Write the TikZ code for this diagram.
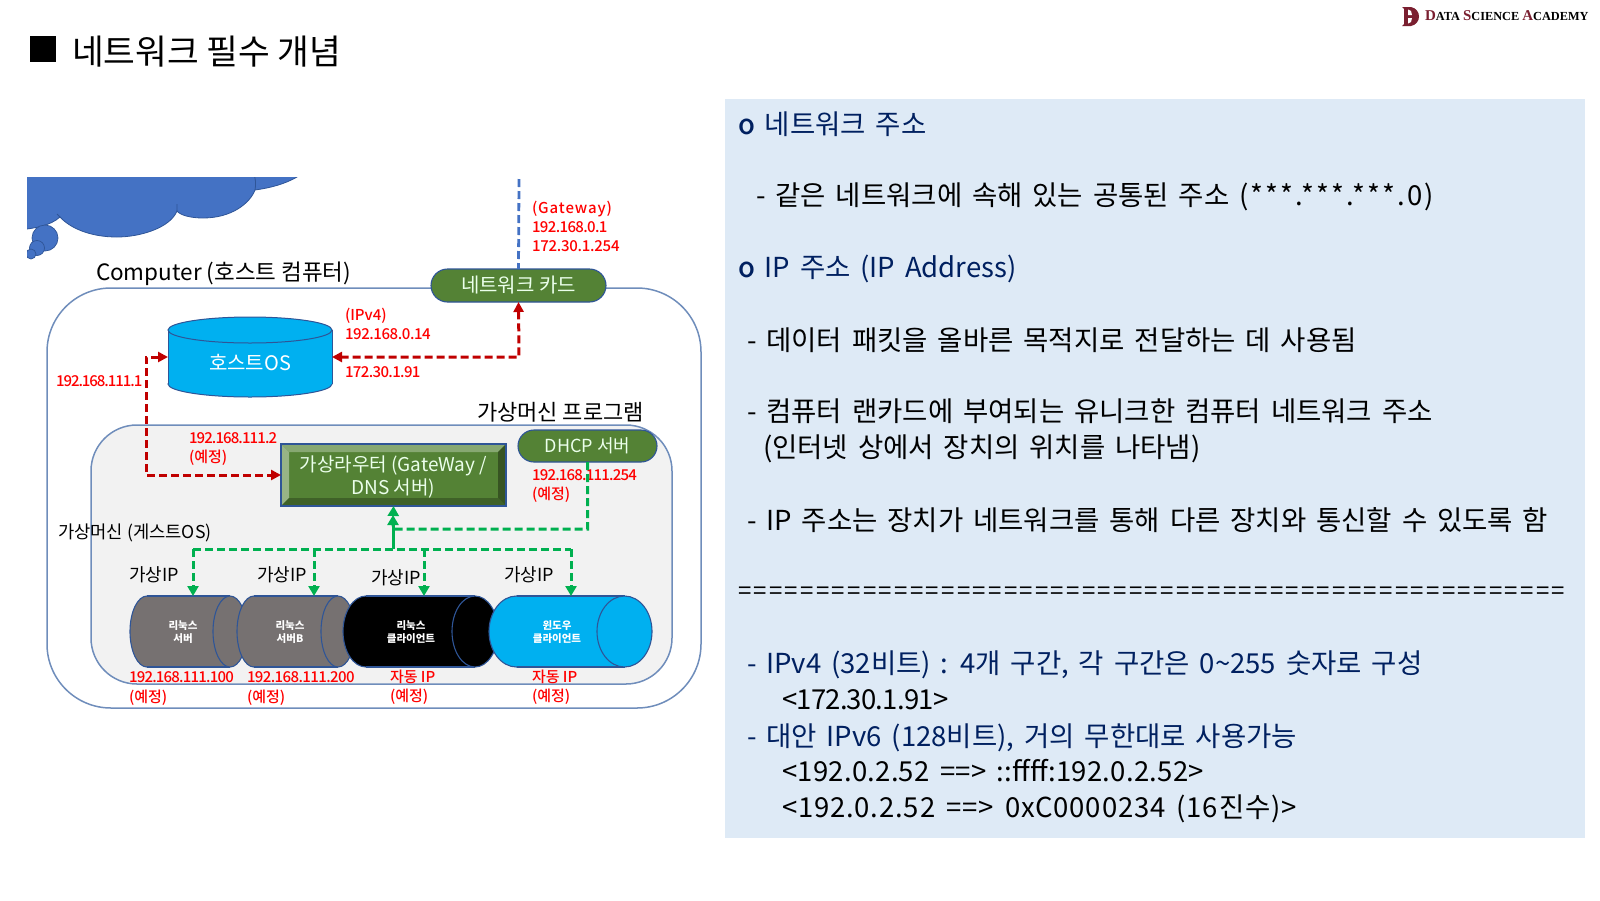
\documentclass[tikz,border=0pt]{standalone}
\usepackage{fontspec}
\setmainfont{Noto Sans CJK KR}
\newfontfamily\panelfont[WordSpace=1.6]{Noto Sans CJK KR}
\newfontfamily\medfont{Noto Sans CJK KR Medium}
\newfontfamily\logofont{Liberation Serif}
\usetikzlibrary{arrows.meta,shapes.misc}
\definecolor{panelbg}{HTML}{DEEAF6}
\definecolor{navy}{HTML}{002060}
\definecolor{framec}{HTML}{6F8DBB}
\definecolor{innerbg}{HTML}{F2F2F2}
\definecolor{cloudc}{HTML}{4472C4}
\definecolor{cloudl}{HTML}{2F5597}
\definecolor{skyc}{HTML}{00B0F0}
\definecolor{cardc}{HTML}{548235}
\definecolor{greyc}{HTML}{767171}
\definecolor{darkred}{HTML}{C00000}
\definecolor{gline}{HTML}{00B050}
\definecolor{logored}{HTML}{7A1F30}
\newcommand{\fs}[1]{\fontsize{#1}{#1}\selectfont}
\newcommand{\lsp}[2]{{\addfontfeature{LetterSpace=#1}\fs{27.5}#2}}
\newcommand{\hcyl}[7]{% name, x1, x2, y1, y2, rx, fill
  \fill[#7,draw=cloudl,line width=1.1pt] (#2+#6,{(#4+#5)/2}) ellipse [x radius=#6,y radius={(#5-#4)/2}];
  \fill[#7] (#2+#6,#4) rectangle (#3-#6,#5);
  \draw[cloudl,line width=1.1pt] (#2+#6,#4) -- (#3-#6,#4) (#2+#6,#5) -- (#3-#6,#5);
  \fill[#7,draw=cloudl,line width=1.1pt] (#3-#6,{(#4+#5)/2}) ellipse [x radius=#6,y radius={(#5-#4)/2}];
  \node[minimum width={(#3-#2)*1pt},minimum height={(#5-#4)*1pt},inner sep=0pt] (#1) at ({(#2+#3)/2},{(#4+#5)/2}) {};
}
\tikzset{
  every node/.style={inner sep=0pt,outer sep=0pt},
  tb/.style={font=\fs{#1},text height={#1*0.9},text depth={#1*0.14}},
  paneltxt/.style={anchor=west,tb=27.5,font=\panelfont\fs{27.5},text=black},
  navytxt/.style={paneltxt,text=navy},
  redtxt/.style={anchor=west,tb=15,font=\medfont\fs{15},text=red},
  rednum/.style={redtxt,font=\medfont\addfontfeature{LetterSpace=#1}\fs{15}},
  blacktxt/.style={anchor=west,text=black},
  vip/.style={blacktxt,tb=18},
  cyltxt/.style={font=\bfseries\fs{10.5},text=white,align=center},
  pill/.style={rounded rectangle,fill=cardc,draw=cloudl,line width=1.1pt,text=white!92!green},
  redconn/.style={darkred,line width=3pt,dash pattern=on 8pt off 4pt,{Triangle[length=10pt,width=10pt]}-{Triangle[length=10pt,width=10pt]}},
  greenconn/.style={gline,line width=3pt,dash pattern=on 8pt off 4pt},
  greenarrow/.style={greenconn,-{Triangle[length=10pt,width=11pt]}},
  frame/.style={draw=framec,line width=1.5pt},
}
\begin{document}
\begin{tikzpicture}[x=1pt,y=-1pt]
\useasboundingbox (0,0) rectangle (1600,900);
% title
\fill[black] (30,36) rectangle (56,62);
\node[blacktxt,tb=34.5] (title) at (72,51) {네트워크 필수 개념};
% logo
\fill[logored] (1402,7) -- (1411,7) .. controls (1416,8) and (1419,12) .. (1419,16.5) .. controls (1419,21) and (1416,25) .. (1411,26) -- (1402,26) -- (1404,24) -- (1404,9) -- cycle;
\fill[white] (1408,9.5) -- (1411,11) -- (1412,15) -- (1408,15) -- cycle (1408,18) -- (1412,18) -- (1411,22) -- (1408,23.5) -- cycle;
\node[anchor=west,font=\logofont\bfseries\fs{12.3},text height=9pt,text depth=1pt] (logo) at (1425,16) {\textcolor{logored}{\fs{15}D}ATA \textcolor{logored}{\fs{15}S}CIENCE \textcolor{logored}{\fs{15}A}CADEMY};
% right panel
\fill[panelbg] (725,99) rectangle (1585,838);
\node[navytxt] (p1) at (738,124) {{\medfont o} 네트워크 주소};
\node[paneltxt] (p2) at (756,195) {- 같은 네트워크에 속해 있는 공통된 주소 \lsp{8}{(***.***.***.0)}};
\node[navytxt] (p3) at (738,267) {{\medfont o} IP 주소 (IP Address)};
\node[paneltxt] (p4) at (747,340) {- 데이터 패킷을 올바른 목적지로 전달하는 데 사용됨};
\node[paneltxt] (p5) at (747,411) {- 컴퓨터 랜카드에 부여되는 유니크한 컴퓨터 네트워크 주소};
\node[paneltxt] (p6) at (763,447) {(인터넷 상에서 장치의 위치를 나타냄)};
\node[paneltxt] (p7) at (747,520) {- IP 주소는 장치가 네트워크를 통해 다른 장치와 통신할 수 있도록 함};
\node[anchor=west,text=black,tb=24,font=\addfontfeature{LetterSpace=9.7}\fs{24}] (p8) at (738,590) {=====================================================};
\node[navytxt] (p9) at (747,663) {- IPv4 (32비트) : 4개 구간, 각 구간은 0\textasciitilde255 숫자로 구성};
\node[paneltxt] (p10) at (782,699) {\lsp{-2.8}{<172.30.1.91>}};
\node[navytxt] (p11) at (747,736) {- 대안 IPv6 (128비트), 거의 무한대로 사용가능};
\node[paneltxt] (p12) at (782,771) {\lsp{1}{<192.0.2.52 ==> ::ffff:192.0.2.52>}};
\node[paneltxt] (p13) at (782,807) {\lsp{3}{<192.0.2.52 ==> 0xC0000234 (16진수)>}};
% cloud
\begin{scope}
\clip (27,177) rectangle (310,285);
\fill[cloudc,draw=cloudl,line width=.8pt] (20,240) -- (20,170) -- (305,170) -- (297,177) .. controls (285,184) and (270,188) .. (255,190) .. controls (250,203) and (232,218) .. (203,218) .. controls (190,218) and (180,215) .. (177,211) .. controls (170,228) and (140,237) .. (117,237) .. controls (90,237) and (70,228) .. (60,217) .. controls (50,226) and (35,228) .. (20,230) -- cycle;
\draw[cloudl,line width=.8pt] (253,172) .. controls (256,178) and (256,185) .. (255,190) (177,211) -- (177,204) (60,217) -- (57,214);
\filldraw[fill=cloudc,draw=cloudl,line width=.7pt] (45,238) circle [radius=13];
\filldraw[fill=cloudc,draw=cloudl,line width=.7pt] (37,248) circle [radius=7.5];
\filldraw[fill=cloudc,draw=cloudl,line width=.7pt] (31,254) circle [radius=5];
\end{scope}
% frames
\draw[frame,rounded corners=64pt] (47,288) rectangle (701,708);
\draw[frame,fill=innerbg,rounded corners=46pt] (91,425) rectangle (672,684);
% labels in frames
\node[blacktxt,tb=22.5] (computer) at (96,272) {Computer (호스트 컴퓨터)};
\node[blacktxt,tb=22] (vmprog) at (477,412) {가상머신 프로그램};
\node[blacktxt,tb=17.7] (guest) at (58,532) {가상머신 (게스트OS)};
% host OS cylinder
\fill[skyc,draw=cloudl,line width=1pt] (250,384) ellipse [x radius=82,y radius=13];
\fill[skyc] (168,330) rectangle (332,384);
\draw[cloudl,line width=1pt] (168,330) -- (168,384) (332,330) -- (332,384);
\fill[skyc,draw=cloudl,line width=1pt] (250,330) ellipse [x radius=82,y radius=13];
\node[minimum width=164pt,minimum height=80pt] (hostos) at (250,357) {};
\node[font=\fs{20},text=white] (hostlabel) at (250,363) {호스트OS};
% cards
\node[pill,minimum width=175pt,minimum height=33pt,font=\fs{20}] (card) at (518.5,285.5) {네트워크 카드};
\node[pill,minimum width=139pt,minimum height=32pt,font=\fs{18}] (dhcp) at (587.5,446) {DHCP 서버};
% router
\node[rectangle,fill=cardc,draw=cloudl,line width=1.1pt,minimum width=225pt,minimum height=62pt] (router) at (393.5,475) {};
\fill[cardc!70!white] (281,444) -- (506,444) -- (498,452) -- (289,452) -- cycle;
\fill[cardc!60!white] (281,444) -- (289,452) -- (289,498) -- (281,506) -- cycle;
\fill[cardc!65!black] (506,444) -- (498,452) -- (498,498) -- (506,506) -- cycle;
\fill[cardc!75!black] (281,506) -- (289,498) -- (498,498) -- (506,506) -- cycle;
\draw[cloudl,line width=1.1pt] (281,444) rectangle (506,506);
\node[font=\fs{19},text=white!92!green,align=center] (routertxt) at (393.5,477) {가상라우터 (GateWay /\\[1pt]DNS 서버)};
% cylinders
\hcyl{vma}{130}{247}{596}{667}{17}{greyc}
\hcyl{vmb}{237}{355}{596}{667}{17}{greyc}
\hcyl{vmc}{343}{498}{596}{667}{23}{black}
\hcyl{vmd}{489}{652}{596}{667}{27.5}{skyc}
\node[cyltxt] (ta) at (183,632) {리눅스\\[3pt]서버};
\node[cyltxt] (tb) at (290,632) {리눅스\\[3pt]서버B};
\node[cyltxt] (tc) at (411,632) {리눅스\\[3pt]클라이언트};
\node[cyltxt] (td) at (557,632) {윈도우\\[3pt]클라이언트};
% red labels
\node[redtxt,font=\medfont\addfontfeature{LetterSpace=6}\fs{15}] (l1) at (532,208) {(Gateway)};
\node[rednum=-4.2] (l2) at (532,227) {192.168.0.1};
\node[rednum=-1.7] (l3) at (532,246) {172.30.1.254};
\node[redtxt] (l4) at (345,315) {(IPv4)};
\node[rednum=-2.8] (l5) at (345,334) {192.168.0.14};
\node[rednum=-4.2] (l6) at (345,372) {172.30.1.91};
\node[rednum=-7] (l7) at (56,381) {192.168.111.1};
\node[rednum=-6] (l8) at (189,438) {192.168.111.2};
\node[redtxt] (l9) at (189,457) {(예정)};
\node[rednum=-5.3] (l10) at (532,475) {192.168.111.254};
\node[redtxt] (l11) at (532,494) {(예정)};
\node[rednum=-5.3] (l12) at (129,677) {192.168.111.100};
\node[redtxt] (l13) at (129,697) {(예정)};
\node[rednum=-4] (l14) at (247,677) {192.168.111.200};
\node[redtxt] (l15) at (247,697) {(예정)};
\node[redtxt] (l16) at (390,677) {자동 IP};
\node[redtxt] (l17) at (390,696) {(예정)};
\node[redtxt] (l18) at (532,677) {자동 IP};
\node[redtxt] (l19) at (532,696) {(예정)};
% connectors
\coordinate (gw) at (519,179);
\draw[cloudc,line width=2.8pt,dash pattern=on 8pt off 4pt] (gw) -- (card.north);
\coordinate (hostright) at (519,357);
\draw[redconn] (card.south) -- (hostright) -- (hostos.east);
\coordinate (h1) at (146,357);
\coordinate (h2) at (146,475);
\draw[redconn] (hostos.west) -- (h1) -- (h2) -- (router.west);
\coordinate (busA) at (193,549);
\coordinate (busB) at (314,549);
\coordinate (busR) at (393,549);
\coordinate (busC) at (424,549);
\coordinate (busD) at (571,549);
\coordinate (rtip) at (393,515);
\coordinate (dhcp1) at (587.5,529);
\coordinate (dhcp2) at (393,529);
\draw[greenconn] (busA) -- (busD);
\draw[greenarrow] (busA) -- (busA |- vma.north);
\draw[greenarrow] (busB) -- (busB |- vmb.north);
\draw[greenarrow] (busC) -- (busC |- vmc.north);
\draw[greenarrow] (busD) -- (busD |- vmd.north);
\draw[greenarrow,solid] (busR) -- (rtip);
\draw[greenarrow] (dhcp.south) -- (dhcp1) -- (dhcp2) -- (router.south);
% virtual IP labels
\node[vip] (v1) at (129,575) {가상IP};
\node[vip] (v2) at (257,575) {가상IP};
\node[vip] (v3) at (371,578) {가상IP};
\node[vip] (v4) at (504,575) {가상IP};
\end{tikzpicture}
\end{document}
